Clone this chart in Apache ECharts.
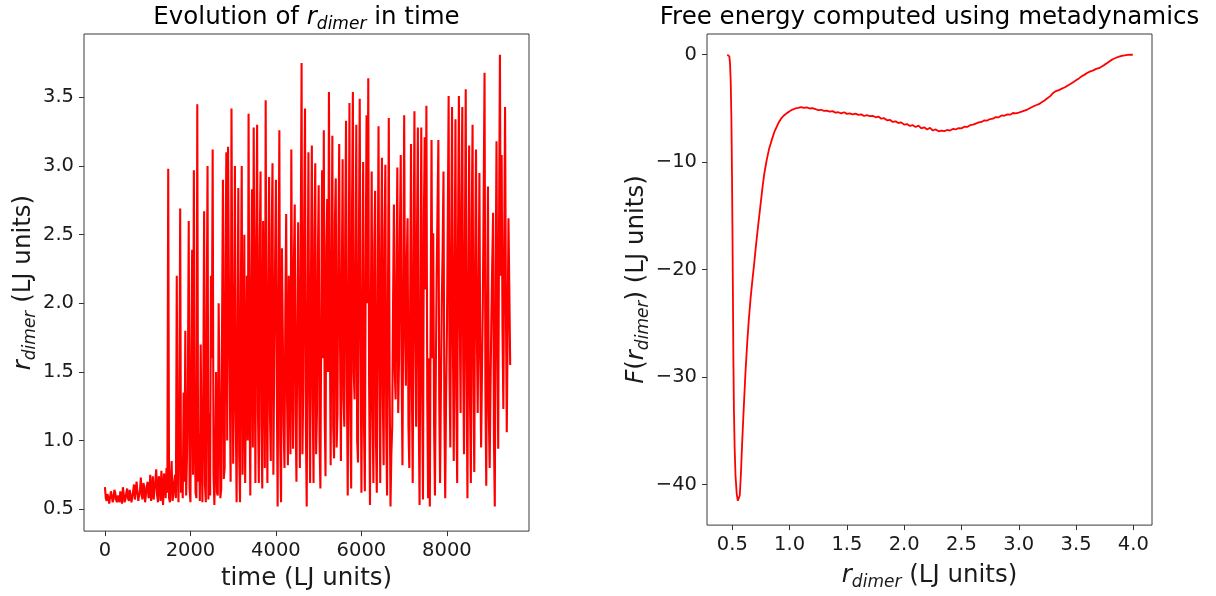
<!DOCTYPE html>
<html><head><meta charset="utf-8">
<script src="https://cdn.jsdelivr.net/npm/echarts@6/dist/echarts.min.js"></script>
<style>html,body{margin:0;padding:0;background:#fff}#c{width:1216px;height:596px}</style>
</head><body><div id="c"></div>
<script>
// ---- data: left panel (r_dimer vs time) ----
const timeStep = 20; // LJ time units between samples
const rDimerSeries = [
0.66,0.58,0.56,0.61,0.58,0.54,0.55,0.63,0.60,0.55,0.57,0.64,0.62,0.57,0.55,0.60,0.59,0.55,0.63,0.58,
0.54,0.66,0.61,0.55,0.57,0.62,0.65,0.58,0.56,0.64,0.60,0.55,0.54,0.63,0.68,0.57,0.58,0.70,0.62,0.56,
0.55,0.64,0.73,0.60,0.57,0.69,0.66,0.55,0.54,0.67,0.70,0.58,0.60,0.75,0.56,0.62,0.74,0.57,0.58,0.71,
0.79,0.60,0.55,0.74,0.69,0.56,0.78,0.62,0.53,0.76,0.72,0.58,0.80,0.62,2.98,0.58,0.55,0.72,0.85,0.56,
0.60,0.70,0.75,0.58,2.20,0.85,0.55,1.10,2.69,0.62,0.80,0.58,1.35,0.70,1.80,0.60,0.90,1.40,2.60,0.65,
0.55,1.60,2.39,0.75,2.97,1.10,0.62,0.58,3.45,0.70,1.05,0.56,1.70,0.95,0.55,1.30,2.67,0.68,0.55,1.90,
3.00,0.57,1.20,0.60,2.20,1.60,3.12,0.75,0.53,0.88,1.50,0.62,0.60,2.00,1.40,0.58,0.65,1.85,2.90,0.72,
0.80,2.30,3.10,1.00,3.14,2.20,1.43,0.70,3.42,2.00,0.83,1.60,3.00,1.20,0.55,1.70,2.84,0.90,0.55,2.10,
3.00,0.75,1.30,2.50,0.69,1.40,2.20,1.00,3.38,1.50,0.60,2.10,2.83,0.95,3.28,1.80,0.69,2.40,3.30,1.20,
0.69,2.40,2.96,1.10,0.65,2.60,1.90,0.80,3.48,1.50,0.69,2.00,2.92,1.20,0.85,2.50,3.02,0.75,1.60,2.30,
2.90,1.40,0.52,2.10,3.26,1.00,0.55,2.40,1.80,1.10,0.80,1.95,2.65,1.30,0.82,2.20,1.50,0.90,3.12,1.70,
0.94,2.30,2.72,1.20,0.70,1.80,2.59,1.50,0.80,2.40,3.75,0.90,1.40,2.60,3.42,1.10,0.52,1.90,3.10,1.40,
0.69,2.20,3.15,1.30,0.69,2.50,3.02,0.90,1.20,2.30,2.86,1.00,0.65,1.90,2.97,1.60,3.26,1.20,0.74,2.40,
2.76,1.50,3.54,1.90,0.82,2.20,3.22,1.10,0.87,2.60,2.91,0.95,1.20,2.40,3.16,1.70,0.85,2.10,3.05,1.30,
1.10,2.50,3.33,1.40,0.60,2.00,3.46,1.20,0.65,2.70,3.54,1.50,1.30,2.20,3.30,1.00,0.84,2.40,3.49,1.80,
0.62,1.70,3.03,1.10,0.63,2.30,3.37,2.00,3.64,1.40,0.53,1.90,2.96,1.20,0.69,2.40,2.82,1.00,0.62,2.10,
3.29,1.60,0.69,2.30,3.06,1.30,0.82,2.50,3.01,1.10,0.60,2.00,3.35,1.40,0.52,0.90,1.10,2.00,2.72,1.50,
1.30,2.20,2.99,1.20,1.60,2.50,3.08,1.50,0.82,2.10,3.37,1.80,1.40,2.30,2.62,1.10,0.80,2.00,3.16,1.40,
0.69,2.30,3.40,1.80,1.10,2.50,3.28,1.20,0.53,1.90,3.28,1.40,0.57,2.60,3.21,2.10,3.44,1.30,0.58,1.60,
0.52,2.00,3.19,1.60,2.51,1.10,0.60,1.50,2.20,2.70,3.19,1.30,0.69,1.40,2.00,2.40,2.96,1.20,0.58,1.30,
1.80,2.60,3.51,1.50,0.95,2.40,3.43,1.70,0.85,2.20,3.34,1.30,0.69,2.50,3.51,1.90,1.20,2.70,3.43,1.60,
0.90,2.40,3.56,1.50,0.58,2.10,3.15,1.30,0.69,2.60,3.30,1.40,0.77,2.30,3.12,1.80,1.20,2.00,2.95,1.60,
0.95,1.50,2.00,2.80,3.68,1.40,0.67,1.90,2.85,1.20,0.80,1.40,1.90,2.30,2.66,1.00,0.52,2.20,3.18,1.70,
0.94,2.60,3.81,2.20,3.08,1.80,1.23,2.40,3.43,2.00,1.06,1.80,2.62,2.10,1.55
];
const timeTicks = [0, 2000, 4000, 6000, 8000];
const rTicksLeft = [0.5, 1.0, 1.5, 2.0, 2.5, 3.0, 3.5];

// ---- data: right panel (free energy) ----
const rValues = [
0.456,0.466,0.474,0.480,0.486,0.492,0.497,0.501,0.505,0.509,
0.514,0.520,0.528,0.538,0.548,0.557,0.565,0.575,0.585,0.600,
0.615,0.630,0.645,0.660,0.675,0.690,0.705,0.720,0.735,0.750,
0.765,0.780,0.800,0.820,0.845,0.870,0.900,0.925,0.950,0.975,
1.000,1.025,1.050,1.075,1.100,1.125,1.150,1.175,1.200,1.225,
1.250,1.275,1.300,1.325,1.350,1.375,1.400,1.425,1.450,1.475,
1.500,1.525,1.550,1.575,1.600,1.625,1.650,1.675,1.700,1.725,
1.750,1.775,1.800,1.825,1.850,1.875,1.900,1.925,1.950,1.975,
2.000,2.025,2.050,2.075,2.100,2.125,2.150,2.175,2.200,2.225,
2.250,2.275,2.300,2.325,2.350,2.375,2.400,2.425,2.450,2.475,
2.500,2.525,2.550,2.575,2.600,2.625,2.650,2.675,2.700,2.725,
2.750,2.775,2.800,2.825,2.850,2.875,2.900,2.925,2.950,2.975,
3.000,3.025,3.050,3.075,3.100,3.125,3.150,3.175,3.200,3.225,
3.250,3.275,3.300,3.325,3.350,3.375,3.400,3.425,3.450,3.475,
3.500,3.525,3.550,3.575,3.600,3.625,3.650,3.675,3.700,3.725,
3.750,3.775,3.800,3.825,3.850,3.875,3.900,3.925,3.950,3.975,
3.995
];
const fValues = [
0.00,-0.03,-0.15,-0.8,-2.5,-6.0,-11.0,-16.0,-22.0,-28.0,
-33.0,-36.5,-39.2,-40.8,-41.5,-41.65,-41.0,-39.0,-36.3,-32.8,
-29.5,-26.8,-24.5,-22.6,-21.0,-19.5,-17.9,-16.4,-15.0,-13.6,
-12.2,-11.0,-9.8,-8.8,-7.9,-7.1,-6.4,-5.95,-5.65,-5.45,
-5.25,-5.10,-5.00,-4.95,-4.88,-4.95,-4.90,-5.00,-4.97,-5.05,
-5.15,-5.12,-5.22,-5.20,-5.30,-5.25,-5.38,-5.35,-5.45,-5.35,
-5.50,-5.45,-5.55,-5.48,-5.60,-5.55,-5.70,-5.62,-5.72,-5.68,
-5.82,-5.75,-5.95,-5.90,-6.10,-6.05,-6.25,-6.20,-6.35,-6.30,
-6.50,-6.45,-6.62,-6.55,-6.72,-6.60,-6.85,-6.75,-6.95,-6.80,
-7.05,-6.95,-7.12,-7.05,-7.10,-7.00,-7.05,-6.90,-6.95,-6.82,
-6.85,-6.70,-6.72,-6.55,-6.50,-6.40,-6.30,-6.25,-6.10,-6.12,
-5.98,-5.95,-5.80,-5.82,-5.65,-5.68,-5.55,-5.58,-5.42,-5.45,
-5.38,-5.30,-5.20,-5.10,-4.95,-4.82,-4.70,-4.60,-4.42,-4.25,
-4.05,-3.85,-3.55,-3.38,-3.30,-3.15,-3.05,-2.88,-2.72,-2.55,
-2.38,-2.20,-2.00,-1.85,-1.68,-1.55,-1.45,-1.32,-1.25,-1.10,
-0.92,-0.75,-0.55,-0.40,-0.28,-0.18,-0.10,-0.05,-0.02,0.00,
0.00
];
const rTicksRight = [0.5, 1.0, 1.5, 2.0, 2.5, 3.0, 3.5, 4.0];
const fTicks = [-40, -30, -20, -10, 0];

// ---- chart ----
const FONT = 'DejaVu Sans';
const TXT = '#1a1a1a';
const richBig = {
  n: {fontSize: 24.5, fontFamily: FONT, color: TXT, lineHeight: 30, verticalAlign: 'middle'},
  i: {fontSize: 24.5, fontFamily: FONT, color: TXT, lineHeight: 30, fontStyle: 'italic', verticalAlign: 'middle'},
  s: {fontSize: 17, fontFamily: FONT, color: TXT, lineHeight: 17, fontStyle: 'italic', padding: [14, 0, 0, 0], verticalAlign: 'middle'}
};
const fmtNum = (d) => (v) => (v < 0 ? '\u2212' : '') + Math.abs(v).toFixed(d);

function axisCommon(ticks, dec) {
  return {
    axisLine: {show: false, onZero: false},
    splitLine: {show: false},
    axisTick: {show: true, length: 5, customValues: ticks, lineStyle: {color: '#333', width: 1}},
    axisLabel: {customValues: ticks, margin: 10, fontSize: 19.5, fontFamily: FONT, color: TXT, formatter: fmtNum(dec)}
  };
}
function xAxisCfg(idx, min, max, ticks, dec, name) {
  return Object.assign({
    type: 'value', gridIndex: idx, min: min, max: max,
    name: name, nameLocation: 'middle', nameGap: 31, nameTextStyle: {rich: richBig}
  }, axisCommon(ticks, dec));
}
function yAxisCfg(idx, min, max, ticks, dec, name, gap) {
  return Object.assign({
    type: 'value', gridIndex: idx, min: min, max: max,
    name: name, nameLocation: 'middle', nameRotate: 90, nameGap: gap, nameTextStyle: {rich: richBig}
  }, axisCommon(ticks, dec));
}

const leftData = rDimerSeries.map((v, i) => [i * timeStep, v]);
const rightData = rValues.map((r, i) => [r, fValues[i]]);

const chart = echarts.init(document.getElementById('c'), null, {renderer: 'canvas'});
chart.setOption({
  animation: false,
  backgroundColor: '#ffffff',
  grid: [
    {left: 84, top: 34, width: 445, height: 498, show: true, borderColor: '#3a3a3a', borderWidth: 1, backgroundColor: 'transparent'},
    {left: 707, top: 34, width: 445, height: 498, show: true, borderColor: '#3a3a3a', borderWidth: 1, backgroundColor: 'transparent'}
  ],
  xAxis: [
    xAxisCfg(0, -490, 9920, timeTicks, 0, '{n|time (LJ units)}'),
    xAxisCfg(1, 0.279, 4.163, rTicksRight, 1, '{i|r}{s|dimer}{n| (LJ units)}')
  ],
  yAxis: [
    yAxisCfg(0, 0.34, 3.962, rTicksLeft, 1, '{i|r}{s|dimer}{n| (LJ units)}', 44),
    yAxisCfg(1, -43.76, 1.93, fTicks, 0, '{i|F}{n|(}{i|r}{s|dimer}{n|) (LJ units)}', 54)
  ],
  graphic: [
    {type: 'text', x: 306.5, y: 18, style: {text: '{n|Evolution of }{i|r}{s|dimer}{n| in time}', rich: richBig, align: 'center', verticalAlign: 'middle'}},
    {type: 'text', x: 929.5, y: 18, style: {text: '{n|Free energy computed using metadynamics}', rich: richBig, align: 'center', verticalAlign: 'middle'}}
  ],
  series: [
    {type: 'line', xAxisIndex: 0, yAxisIndex: 0, data: leftData, showSymbol: false, symbol: 'none',
     lineStyle: {color: '#ff0000', width: 2.1}, clip: true},
    {type: 'line', xAxisIndex: 1, yAxisIndex: 1, data: rightData, showSymbol: false, symbol: 'none',
     lineStyle: {color: '#ff0000', width: 1.8}, clip: true}
  ]
});
</script>
</body></html>
